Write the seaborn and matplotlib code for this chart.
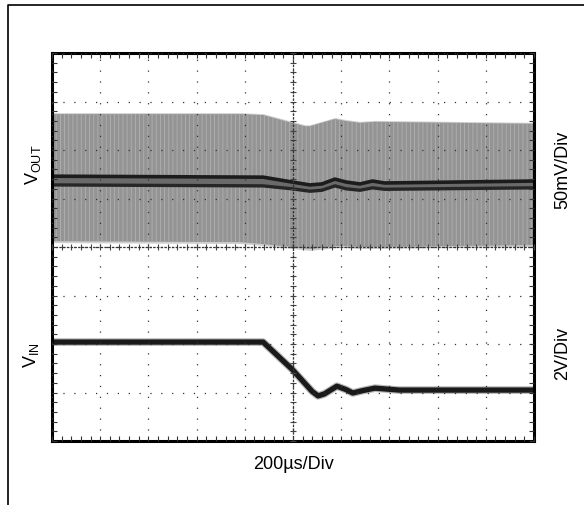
import numpy as np
import matplotlib.pyplot as plt
import seaborn as sns
from matplotlib.lines import Line2D
from matplotlib.ticker import MultipleLocator

# scope readings, in screen divisions (10 x 8 grid)
band_t = [0, 3.90, 4.38, 4.98, 5.25, 5.35, 5.66, 5.87, 6.08, 6.39, 6.70, 10]
band_top = [6.74, 6.74, 6.72, 6.56, 6.49, 6.49, 6.58, 6.64, 6.60, 6.56, 6.58, 6.54]
band_bot = [4.12, 4.10, 4.06, 4.00, 3.97, 3.96, 3.99, 4.02, 4.02, 4.00, 4.00, 4.04]

vout_t = [0, 4.38, 4.98, 5.35, 5.60, 5.87, 6.10, 6.39, 6.65, 6.90, 10]
vout_hi = [5.46, 5.44, 5.34, 5.28, 5.30, 5.40, 5.34, 5.30, 5.36, 5.32, 5.36]
vout_lo = [5.28, 5.26, 5.20, 5.15, 5.17, 5.26, 5.20, 5.17, 5.22, 5.19, 5.22]

vin_t = [0, 4.38, 4.98, 5.40, 5.52, 5.65, 5.91, 6.10, 6.24, 6.45, 6.70, 7.20, 10]
vin_v = [2.04, 2.04, 1.48, 1.02, 0.93, 0.97, 1.13, 1.06, 0.99, 1.04, 1.09, 1.05, 1.05]

sns.set_style('white')
plt.rcParams['font.family'] = ['Liberation Sans', 'DejaVu Sans']
plt.rcParams['text.color'] = 'black'
plt.rcParams['mathtext.fontset'] = 'custom'
plt.rcParams['mathtext.rm'] = 'Liberation Sans'
plt.rcParams['hatch.linewidth'] = 0.6

fig = plt.figure(figsize=(5.84, 5.06), dpi=100)
rect = [52/584, 1-442/506, 482/584, 388/506]
ax = fig.add_axes(rect)

# VOUT ripple band
ax.fill_between(band_t, np.array(band_bot)-0.03, np.array(band_top)+0.03, color='#cfcfcf', lw=0)
ax.fill_between(band_t, band_bot, band_top, facecolor='#949494', edgecolor='#b0b0b0',
                hatch='||||', lw=0)
ax.fill_between(vout_t, vout_lo, vout_hi, color='#6a6a6a', lw=0)
sns.lineplot(x=vout_t, y=vout_hi, ax=ax, color='#1c1c1c', lw=2.6)
sns.lineplot(x=vout_t, y=vout_lo, ax=ax, color='#262626', lw=2.4)

# VIN step
sns.lineplot(x=vin_t, y=vin_v, ax=ax, color='#888888', lw=5.5, alpha=0.6)
sns.lineplot(x=vin_t, y=vin_v, ax=ax, color='#1a1a1a', lw=3.8)

ax.set_xlim(0, 10)
ax.set_ylim(0, 8)
ax.set_xlabel('')
ax.set_ylabel('')
for a in (ax.xaxis, ax.yaxis):
    a.set_major_locator(MultipleLocator(1))
    a.set_minor_locator(MultipleLocator(0.2))
ax.tick_params(which='both', direction='in', top=True, right=True, bottom=True, left=True,
               length=3.5, width=0.8, color='#333333', labelbottom=False, labelleft=False)
ax.grid(which='major', color='#333333', linestyle=(0, (1, 7.7)), lw=0.9)
ax.set_axisbelow(False)
for s in ax.spines.values():
    s.set_linewidth(2.2)
    s.set_color('black')

# center crosshair with small ticks
cx = fig.add_axes(rect, label='cross')
cx.set_xlim(0, 10)
cx.set_ylim(0, 8)
cx.patch.set_visible(False)
cx.spines['top'].set_visible(False)
cx.spines['right'].set_visible(False)
cx.spines['left'].set_position(('data', 5))
cx.spines['bottom'].set_position(('data', 4))
for k in ('left', 'bottom'):
    cx.spines[k].set_linestyle((0, (1, 2)))
    cx.spines[k].set_linewidth(0.9)
    cx.spines[k].set_color('#333333')
for a in (cx.xaxis, cx.yaxis):
    a.set_major_locator(MultipleLocator(1))
    a.set_minor_locator(MultipleLocator(0.2))
cx.tick_params(which='both', direction='inout', length=5, width=0.8, color='#444444',
               bottom=True, left=True, labelbottom=False, labelleft=False)

fig.text(293/584, 1-465/506, '200µs/Div', ha='center', va='center', size=13)
fig.text(563/584, 1-170/506, '50mV/Div', ha='center', va='center', size=13, rotation=90)
fig.text(563/584, 1-353/506, '2V/Div', ha='center', va='center', size=13, rotation=90)
fig.text(33/584, 1-165/506, r'V$_\mathregular{OUT}$', ha='center', va='center', size=13, rotation=90)
fig.text(31/584, 1-355/506, r'V$_\mathregular{IN}$', ha='center', va='center', size=13, rotation=90)

fig.add_artist(Line2D([8/584, 8/584, 1], [0, 1-6/506, 1-6/506], transform=fig.transFigure,
                      color='black', lw=1.2))

fig.savefig('out.png', dpi=100)
